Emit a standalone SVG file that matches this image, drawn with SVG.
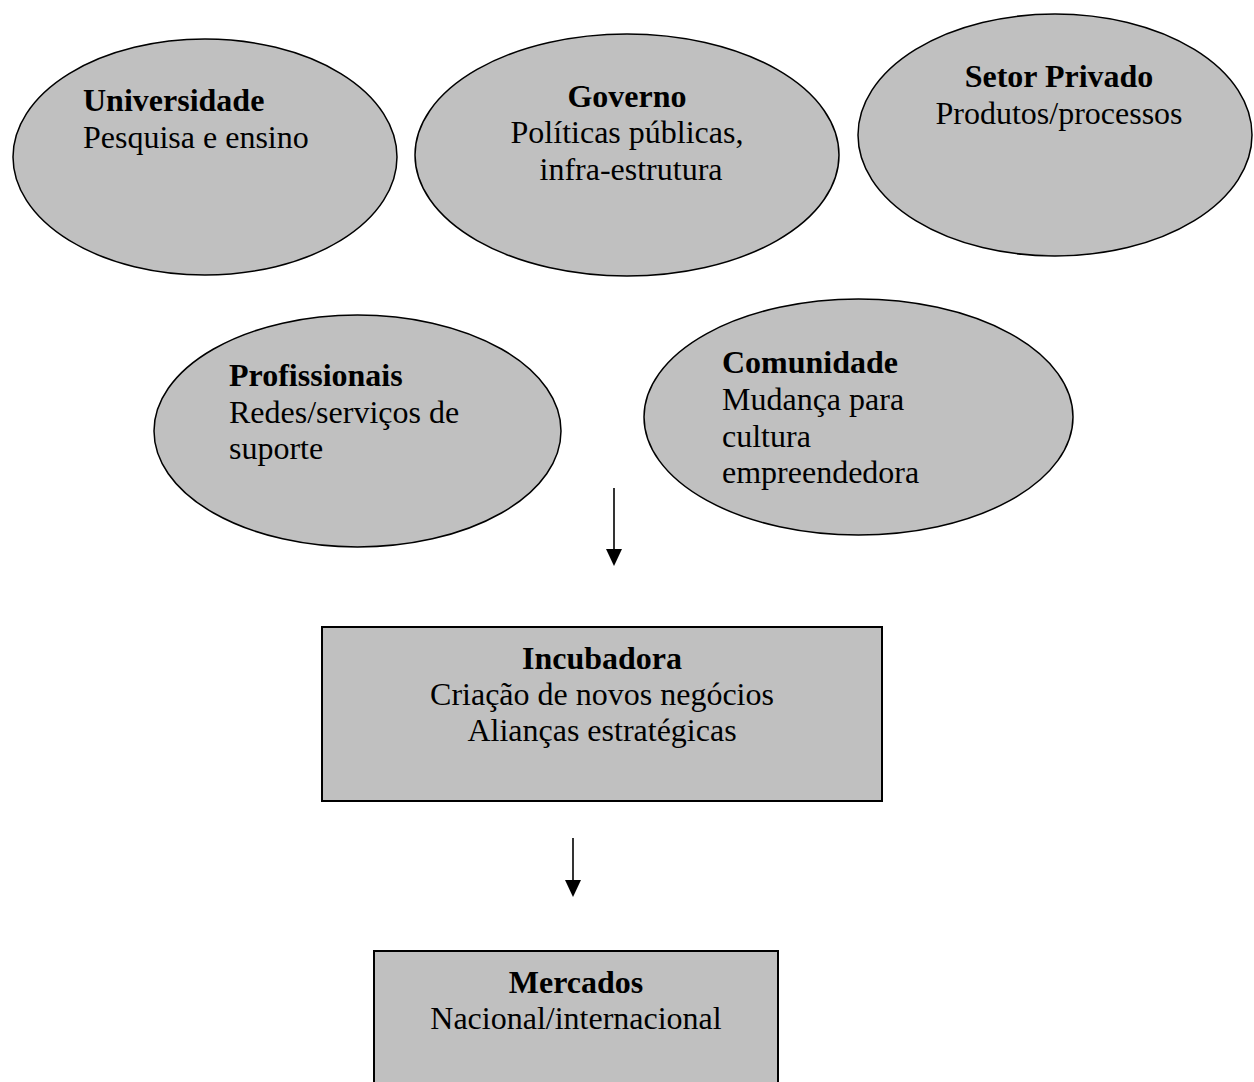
<svg xmlns="http://www.w3.org/2000/svg" width="1254" height="1082" viewBox="0 0 1254 1082">
<style>
.shape{fill:#c0c0c0;stroke:#000;stroke-width:1.5}
.box{fill:#c0c0c0;stroke:#000;stroke-width:2}
text{font-family:"Liberation Serif","Times New Roman",serif;font-size:32px;fill:#000}
.b{font-weight:bold}
.c{text-anchor:middle}
.conn{stroke:#000;stroke-width:1.6;fill:none}
</style>
<defs>
<marker id="arr" markerUnits="userSpaceOnUse" markerWidth="16" markerHeight="18" refX="8" refY="17" orient="auto-start-reverse" viewBox="0 0 16 18">
<path d="M0,0 L16,0 L8,17 Z" fill="#000" transform="rotate(0)"/>
</marker>
</defs>
<rect width="1254" height="1082" fill="#fff"/>
<g id="universidade">
<ellipse class="shape" cx="205" cy="157" rx="192" ry="118"/>
<text class="b" x="83" y="111">Universidade</text>
<text x="83" y="148">Pesquisa e ensino</text>
</g>
<g id="governo">
<ellipse class="shape" cx="627" cy="155" rx="212" ry="121"/>
<text class="b c" x="627" y="107">Governo</text>
<text class="c" x="627" y="143">Políticas públicas,</text>
<text class="c" x="631" y="180">infra-estrutura</text>
</g>
<g id="setor-privado">
<ellipse class="shape" cx="1055" cy="135" rx="197" ry="121"/>
<text class="b c" x="1059" y="87">Setor Privado</text>
<text class="c" x="1059" y="124">Produtos/processos</text>
</g>
<g id="profissionais">
<ellipse class="shape" cx="357.5" cy="431" rx="203.5" ry="116"/>
<text class="b" x="229" y="386">Profissionais</text>
<text x="229" y="423">Redes/serviços de</text>
<text x="229" y="459">suporte</text>
</g>
<g id="comunidade">
<ellipse class="shape" cx="858.5" cy="417" rx="214.5" ry="118"/>
<text class="b" x="722" y="373">Comunidade</text>
<text x="722" y="410">Mudança para</text>
<text x="722" y="447">cultura</text>
<text x="722" y="483">empreendedora</text>
</g>
<g id="incubadora">
<rect class="box" x="322" y="627" width="560" height="174"/>
<text class="b c" x="602" y="669">Incubadora</text>
<text class="c" x="602" y="705">Criação de novos negócios</text>
<text class="c" x="602" y="741">Alianças estratégicas</text>
</g>
<g id="mercados">
<rect class="box" x="374" y="951" width="404" height="140"/>
<text class="b c" x="576" y="993">Mercados</text>
<text class="c" x="576" y="1029">Nacional/internacional</text>
</g>
<g id="connectors">
<line class="conn" x1="614" y1="488" x2="614" y2="550"/>
<path d="M606,549 L622,549 L614,566 Z" fill="#000"/>
<line class="conn" x1="573" y1="838" x2="573" y2="881"/>
<path d="M565,880 L581,880 L573,897 Z" fill="#000"/>
</g>
</svg>
